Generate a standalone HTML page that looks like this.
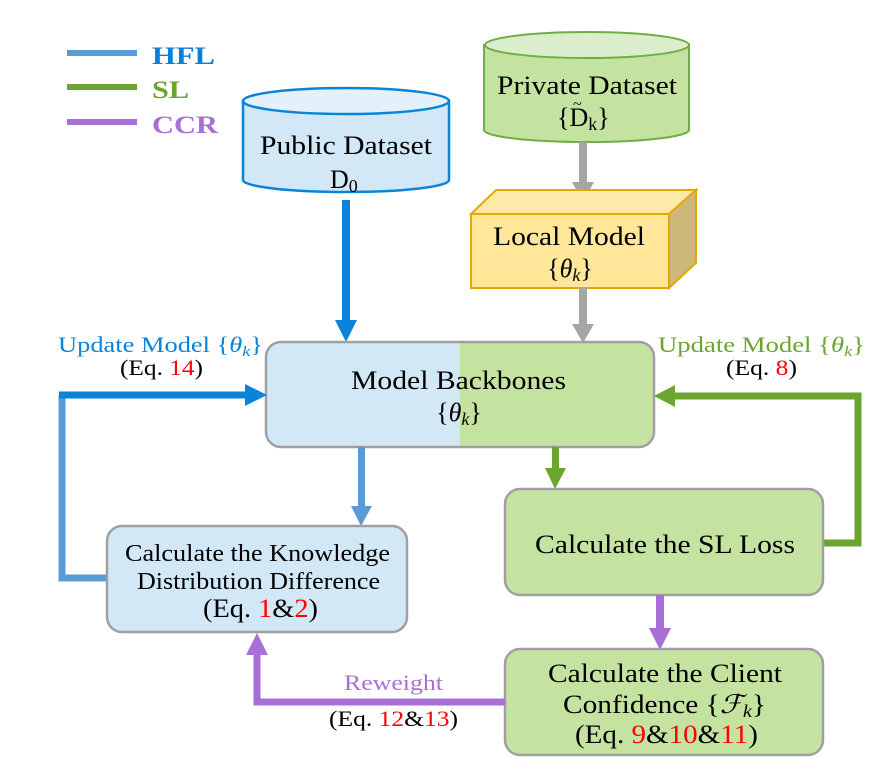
<!DOCTYPE html>
<html><head><meta charset="utf-8"><style>
html,body{margin:0;padding:0;background:#fff;}
svg{display:block;}
svg text{font-family:"Liberation Serif","DejaVu Serif",serif;}
</style></head><body>
<svg width="896" height="769" viewBox="0 0 896 769" xmlns="http://www.w3.org/2000/svg" font-family="Liberation Serif, serif">
<!-- legend -->
<rect x="67" y="50" width="70" height="6" fill="#5b9bd5"/>
<rect x="67" y="84" width="70" height="6" fill="#6aa530"/>
<rect x="67" y="119" width="70" height="6" fill="#a86fd6"/>
<text x="152" y="64" font-size="25" font-weight="bold" fill="#0a7fd8" textLength="63" lengthAdjust="spacingAndGlyphs">HFL</text>
<text x="152" y="98" font-size="25" font-weight="bold" fill="#6aa530" textLength="37" lengthAdjust="spacingAndGlyphs">SL</text>
<text x="152" y="133" font-size="25" font-weight="bold" fill="#a86fd6" textLength="66" lengthAdjust="spacingAndGlyphs">CCR</text>

<!-- public dataset -->
<path d="M243,101 L243,180 A103,12 0 0 0 449,180 L449,101 Z" fill="#d3e8f6" stroke="#0a84d9" stroke-width="2.5"/>
<ellipse cx="346" cy="101" rx="103" ry="13" fill="#e4f1fa" stroke="#0a84d9" stroke-width="2.5"/>
<text x="260" y="154" font-size="26" textLength="172" lengthAdjust="spacingAndGlyphs">Public Dataset</text>
<text x="330" y="188" font-size="26">D<tspan font-size="18" dy="4">0</tspan></text>

<!-- private dataset -->
<path d="M484,45 L484,130 A102,12 0 0 0 689,130 L689,45 Z" fill="#c5e3a0" stroke="#70ad47" stroke-width="2"/>
<ellipse cx="587" cy="45" rx="102" ry="13" fill="#dbeecb" stroke="#70ad47" stroke-width="2"/>
<text x="497" y="94" font-size="26" textLength="180" lengthAdjust="spacingAndGlyphs">Private Dataset</text>
<text x="557" y="126" font-size="26">{D<tspan font-size="18" dy="4">k</tspan><tspan dy="-4">}</tspan></text>
<text x="573" y="109" font-size="16">~</text>

<!-- gray arrow 1 -->
<rect x="579" y="142" width="8" height="42" fill="#a6a6a6"/>
<polygon points="572,182 594,182 583,202" fill="#a6a6a6"/>

<!-- local model -->
<polygon points="471,214 496,190 696,190 669,214" fill="#ffe9a8" stroke="#e6a800" stroke-width="2"/>
<polygon points="669,214 696,190 696,263 669,288" fill="#ccb97a" stroke="#e6a800" stroke-width="2"/>
<rect x="471" y="214" width="198" height="74" fill="#ffe699" stroke="#e6a800" stroke-width="2"/>
<text x="493" y="245" font-size="26" textLength="152" lengthAdjust="spacingAndGlyphs">Local Model</text>
<text x="570" y="277" font-size="26" text-anchor="middle">{<tspan font-style="italic">θ</tspan><tspan font-style="italic" font-size="18" dy="4">k</tspan><tspan dy="-4">}</tspan></text>

<!-- gray arrow 2 -->
<rect x="579" y="288" width="8" height="38" fill="#a6a6a6"/>
<polygon points="572,324 594,324 583,343" fill="#a6a6a6"/>

<!-- blue arrow from public -->
<rect x="342" y="200" width="8" height="122" fill="#0a84d9"/>
<polygon points="335,320 357,320 346,342" fill="#0a84d9"/>

<!-- model backbones -->
<defs><clipPath id="cb"><rect x="266" y="342" width="388" height="105" rx="15"/></clipPath></defs>
<g clip-path="url(#cb)">
<rect x="266" y="342" width="194" height="105" fill="#d3e8f6"/>
<rect x="460" y="342" width="194" height="105" fill="#c5e3a0"/>
</g>
<rect x="266" y="342" width="388" height="105" rx="15" fill="none" stroke="#a0a0a0" stroke-width="2.5"/>
<text x="351" y="389" font-size="26" textLength="215" lengthAdjust="spacingAndGlyphs">Model Backbones</text>
<text x="459" y="421" font-size="26" text-anchor="middle">{<tspan font-style="italic">θ</tspan><tspan font-style="italic" font-size="18" dy="4">k</tspan><tspan dy="-4">}</tspan></text>

<!-- update labels -->
<text x="58" y="352" font-size="22" fill="#0a84d9" textLength="205" lengthAdjust="spacingAndGlyphs">Update Model {<tspan font-style="italic">θ</tspan><tspan font-style="italic" font-size="15" dy="4">k</tspan><tspan dy="-4">}</tspan></text>
<text x="120" y="375" font-size="22" textLength="83" lengthAdjust="spacingAndGlyphs">(Eq. <tspan fill="#ff0000">14</tspan>)</text>
<text x="658" y="352" font-size="22" fill="#6aa530" textLength="207" lengthAdjust="spacingAndGlyphs">Update Model {<tspan font-style="italic">θ</tspan><tspan font-style="italic" font-size="15" dy="4">k</tspan><tspan dy="-4">}</tspan></text>
<text x="726" y="375" font-size="22" textLength="71" lengthAdjust="spacingAndGlyphs">(Eq. <tspan fill="#ff0000">8</tspan>)</text>

<!-- left loop -->
<polyline points="108,578 62,578 62,395" fill="none" stroke="#5b9bd5" stroke-width="7"/>
<polyline points="59,395 248,395" fill="none" stroke="#0a84d9" stroke-width="7"/>
<polygon points="245,384 267,395 245,406" fill="#0a84d9"/>

<!-- right loop -->
<polyline points="823,543 858,543 858,396 672,396" fill="none" stroke="#6aa530" stroke-width="7"/>
<polygon points="675,385 654,396 675,407" fill="#6aa530"/>

<!-- blue arrow down -->
<rect x="358" y="447" width="7" height="62" fill="#5b9bd5"/>
<polygon points="351,506 372,506 361,526" fill="#5b9bd5"/>

<!-- green arrow down -->
<rect x="552" y="447" width="7" height="24" fill="#6aa530"/>
<polygon points="545,468 566,468 555,489" fill="#6aa530"/>

<!-- KDD box -->
<rect x="107" y="526" width="300" height="106" rx="15" fill="#d3e8f6" stroke="#a0a0a0" stroke-width="2.5"/>
<text x="125" y="561" font-size="24" textLength="265" lengthAdjust="spacingAndGlyphs">Calculate the Knowledge</text>
<text x="137" y="589" font-size="24" textLength="243" lengthAdjust="spacingAndGlyphs">Distribution Difference</text>
<text x="203" y="617" font-size="26" textLength="115" lengthAdjust="spacingAndGlyphs">(Eq. <tspan fill="#ff0000">1</tspan>&amp;<tspan fill="#ff0000">2</tspan>)</text>

<!-- SL box -->
<rect x="505" y="489" width="318" height="106" rx="15" fill="#c5e3a0" stroke="#a0a0a0" stroke-width="2.5"/>
<text x="535" y="553" font-size="26" textLength="260" lengthAdjust="spacingAndGlyphs">Calculate the SL Loss</text>

<!-- purple down -->
<rect x="656" y="595" width="8" height="36" fill="#a86fd6"/>
<polygon points="649,628 671,628 660,650" fill="#a86fd6"/>

<!-- CC box -->
<rect x="505" y="649" width="318" height="106" rx="15" fill="#c5e3a0" stroke="#a0a0a0" stroke-width="2.5"/>
<text x="548" y="682" font-size="26" textLength="234" lengthAdjust="spacingAndGlyphs">Calculate the Client</text>
<text x="563" y="713" font-size="26" textLength="203" lengthAdjust="spacingAndGlyphs">Confidence {<tspan font-style="italic">ℱ</tspan><tspan font-style="italic" font-size="18" dy="4">k</tspan><tspan dy="-4">}</tspan></text>
<text x="575" y="743" font-size="26" textLength="183" lengthAdjust="spacingAndGlyphs">(Eq. <tspan fill="#ff0000">9</tspan>&amp;<tspan fill="#ff0000">10</tspan>&amp;<tspan fill="#ff0000">11</tspan>)</text>

<!-- purple loop -->
<polyline points="505,702 257,702 257,652" fill="none" stroke="#a86fd6" stroke-width="7"/>
<polygon points="246,655 268,655 257,633" fill="#a86fd6"/>
<text x="344" y="690" font-size="22" fill="#a86fd6" textLength="99" lengthAdjust="spacingAndGlyphs">Reweight</text>
<text x="329" y="726" font-size="22" textLength="129" lengthAdjust="spacingAndGlyphs">(Eq. <tspan fill="#ff0000">12</tspan>&amp;<tspan fill="#ff0000">13</tspan>)</text>
</svg>
</body></html>
